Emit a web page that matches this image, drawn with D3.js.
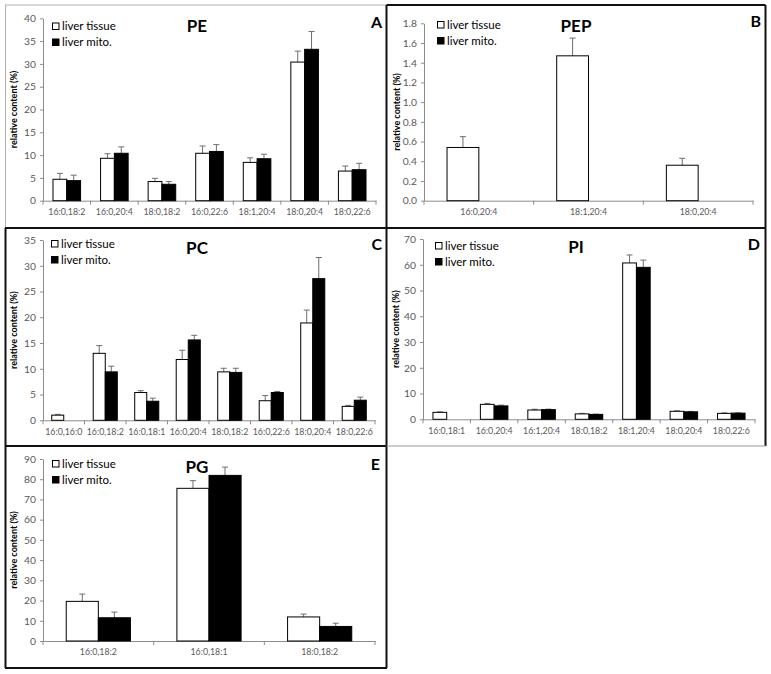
<!DOCTYPE html>
<html><head><meta charset="utf-8">
<script src="https://cdn.jsdelivr.net/npm/d3@7"></script>
<style>body{margin:0;background:#fff}</style>
</head><body><svg id="c" width="771" height="674"></svg>
<script>
const seriesNames = ["liver tissue", "liver mito."];

// Panel A – PE
const peCats = ["16:0,18:2","16:0,20:4","18:0,18:2","16:0,22:6","18:1,20:4","18:0,20:4","18:0,22:6"];
const peTissue = [4.7, 9.3, 4.2, 10.4, 8.4, 30.4, 6.5];
const peTissueErr = [1.3, 1.0, 0.7, 1.6, 1.0, 2.4, 1.1];
const peMito = [4.4, 10.4, 3.6, 10.8, 9.2, 33.2, 6.8];
const peMitoErr = [1.2, 1.4, 0.6, 1.5, 1.0, 3.9, 1.4];
const peTicks = [0,5,10,15,20,25,30,35,40];

// Panel B – PEP
const pepCats = ["16:0,20:4","18:1,20:4","18:0,20:4"];
const pepTissue = [0.54, 1.47, 0.36];
const pepTissueErr = [0.11, 0.18, 0.07];
const pepMito = [null, null, null];
const pepMitoErr = [0, 0, 0];
const pepTicks = [0,0.2,0.4,0.6,0.8,1.0,1.2,1.4,1.6,1.8];

// Panel C – PC
const pcCats = ["16:0,16:0","16:0,18:2","16:0,18:1","16:0,20:4","18:0,18:2","16:0,22:6","18:0,20:4","18:0,22:6"];
const pcTissue = [1.0, 13.0, 5.4, 11.8, 9.4, 3.8, 18.9, 2.7];
const pcTissueErr = [0.15, 1.5, 0.35, 1.8, 0.7, 1.0, 2.5, 0.2];
const pcMito = [null, 9.4, 3.7, 15.6, 9.3, 5.4, 27.5, 3.9];
const pcMitoErr = [0, 1.1, 0.6, 0.9, 0.8, 0.2, 4.1, 0.6];
const pcTicks = [0,5,10,15,20,25,30,35];

// Panel D – PI
const piCats = ["16:0,18:1","16:0,20:4","16:1,20:4","18:0,18:2","18:1,20:4","18:0,20:4","18:0,22:6"];
const piTissue = [2.7, 5.8, 3.6, 2.1, 60.7, 3.1, 2.3];
const piTissueErr = [0.2, 0.4, 0.3, 0.2, 3.1, 0.2, 0.2];
const piMito = [null, 5.2, 3.75, 1.9, 59.0, 2.9, 2.4];
const piMitoErr = [0, 0.3, 0.2, 0.1, 2.8, 0.15, 0.1];
const piTicks = [0,10,20,30,40,50,60,70];

// Panel E – PG
const pgCats = ["16:0,18:2","16:0,18:1","18:0,18:2"];
const pgTissue = [19.6, 75.5, 11.9];
const pgTissueErr = [3.6, 3.8, 1.4];
const pgMito = [11.5, 81.9, 7.2];
const pgMitoErr = [2.8, 4.1, 1.6];
const pgTicks = [0,10,20,30,40,50,60,70,80,90];

const panels = [
  {title:"PE", letter:"A", cats:peCats, t:peTissue, te:peTissueErr, m:peMito, me:peMitoErr, ticks:peTicks, fmt:d3.format("d"),
   x0:43, x1:376, y0:200.7, yTop:18.3, titleX:197, titleY:32, letterX:382, letterY:28, lx:52, ly:22.5, ytx:15},
  {title:"PEP", letter:"B", cats:pepCats, t:pepTissue, te:pepTissueErr, m:pepMito, me:pepMitoErr, ticks:pepTicks, fmt:d3.format(".1f"),
   x0:424, x1:753, y0:200.7, yTop:23.3, titleX:576, titleY:32, letterX:761, letterY:27, lx:437, ly:21, ytx:398},
  {title:"PC", letter:"C", cats:pcCats, t:pcTissue, te:pcTissueErr, m:pcMito, me:pcMitoErr, ticks:pcTicks, fmt:d3.format("d"),
   x0:43, x1:375, y0:420.3, yTop:240, titleX:197, titleY:254, letterX:382, letterY:250, lx:51, ly:240, ytx:15},
  {title:"PI", letter:"D", cats:piCats, t:piTissue, te:piTissueErr, m:piMito, me:piMitoErr, ticks:piTicks, fmt:d3.format("d"),
   x0:423, x1:755, y0:419.3, yTop:239, titleX:576, titleY:253, letterX:760, letterY:250, lx:435, ly:242, ytx:397},
  {title:"PG", letter:"E", cats:pgCats, t:pgTissue, te:pgTissueErr, m:pgMito, me:pgMitoErr, ticks:pgTicks, fmt:d3.format("d"),
   x0:43, x1:375, y0:641, yTop:459, titleX:197, titleY:473, letterX:380, letterY:470, lx:52, ly:460, ytx:15}
];

const svg = d3.select("#c");
const FONT = "Lato, 'Open Sans', sans-serif";
const AXIS = "#8c8c8c", TXT = "#595959";

// panel frames
const frame = [
  [5,5,386.5,5,"#b0b0b0",1],
  [386.5,5,765.5,5,"#111",2],
  [5.5,5,5.5,228,"#b0b0b0",1],
  [5.5,228,5.5,668,"#111",2],
  [386.5,5,386.5,668,"#111",2],
  [765.5,5,765.5,446,"#111",2],
  [5,228,766,228,"#111",2],
  [5,446,386.5,446,"#111",2],
  [386.5,446,766,446,"#9a9a9a",1],
  [5,668,387,668,"#111",2]
];
svg.selectAll("line.frame").data(frame).join("line").attr("class","frame")
  .attr("x1",d=>d[0]).attr("y1",d=>d[1]).attr("x2",d=>d[2]).attr("y2",d=>d[3])
  .attr("stroke",d=>d[4]).attr("stroke-width",d=>d[5]);

panels.forEach(p => {
  const g = svg.append("g");
  const x = d3.scaleBand().domain(p.cats).range([p.x0, p.x1]).padding(0);
  const bw = x.bandwidth();
  const sub = d3.scaleBand().domain(seriesNames).range([bw*0.21, bw*0.79]).padding(0);
  const yMax = p.ticks[p.ticks.length-1];
  const y = d3.scaleLinear().domain([0, yMax]).range([p.y0, p.yTop]);

  // y axis
  const ya = g.append("g").attr("transform",`translate(${p.x0},0)`)
    .call(d3.axisLeft(y).tickValues(p.ticks).tickFormat(p.fmt).tickSize(3).tickSizeOuter(0).tickPadding(4));
  ya.select(".domain").attr("stroke",AXIS);
  ya.selectAll(".tick line").attr("stroke",AXIS);
  ya.selectAll(".tick text").attr("fill",TXT).style("font-family",FONT).style("font-size","10.3px");

  // x axis
  const xa = g.append("g").attr("transform",`translate(0,${p.y0})`)
    .call(d3.axisBottom(x).tickSize(0).tickPadding(8).tickSizeOuter(0));
  xa.select(".domain").attr("stroke",AXIS);
  xa.selectAll(".tick text").attr("fill",TXT).style("font-family",FONT).style("font-size","8.8px");
  const bounds = p.cats.map(c => x(c)).concat([p.x1]);
  g.selectAll("line.xt").data(bounds).join("line").attr("class","xt")
    .attr("x1",d=>d).attr("x2",d=>d).attr("y1",p.y0).attr("y2",p.y0+4).attr("stroke",AXIS);

  // bars
  const rows = [];
  p.cats.forEach((c,i) => {
    rows.push({c, s:seriesNames[0], v:p.t[i], e:p.te[i]});
    rows.push({c, s:seriesNames[1], v:p.m[i], e:p.me[i]});
  });
  const valid = rows.filter(r => r.v != null);
  // error bars
  const eb = g.selectAll("g.eb").data(valid.filter(r=>r.e>0)).join("g").attr("class","eb");
  eb.append("line")
    .attr("x1",r=>x(r.c)+sub(r.s)+sub.bandwidth()/2).attr("x2",r=>x(r.c)+sub(r.s)+sub.bandwidth()/2)
    .attr("y1",r=>y(r.v)).attr("y2",r=>y(r.v+r.e)).attr("stroke","#6e6e6e").attr("stroke-width",1);
  eb.append("line")
    .attr("x1",r=>x(r.c)+sub(r.s)+sub.bandwidth()/2-3).attr("x2",r=>x(r.c)+sub(r.s)+sub.bandwidth()/2+3)
    .attr("y1",r=>y(r.v+r.e)).attr("y2",r=>y(r.v+r.e)).attr("stroke","#6e6e6e").attr("stroke-width",1);
  g.selectAll("rect.bar").data(valid).join("rect").attr("class","bar")
    .attr("x",r=>x(r.c)+sub(r.s)).attr("y",r=>y(r.v))
    .attr("width",sub.bandwidth()).attr("height",r=>p.y0-y(r.v))
    .attr("fill",r=>r.s===seriesNames[0]?"#fff":"#000")
    .attr("stroke","#000").attr("stroke-width",1);

  // y title
  g.append("text").attr("transform",`translate(${p.ytx},${(p.y0+p.yTop)/2}) rotate(-90)`)
    .attr("text-anchor","middle").attr("dominant-baseline","middle")
    .style("font-family",FONT).style("font-weight","bold").style("font-size","9px").attr("fill","#000")
    .text("relative content (%)");

  // title & letter
  g.append("text").attr("x",p.titleX).attr("y",p.titleY).attr("text-anchor","middle")
    .style("font-family",FONT).style("font-weight","bold").style("font-size","17px").text(p.title);
  g.append("text").attr("x",p.letterX).attr("y",p.letterY).attr("text-anchor","end")
    .style("font-family",FONT).style("font-weight","bold").style("font-size","16px").text(p.letter);

  // legend
  const lg = g.selectAll("g.lg").data(seriesNames).join("g").attr("class","lg")
    .attr("transform",(d,i)=>`translate(${p.lx},${p.ly+i*16})`);
  lg.append("rect").attr("x",0.5).attr("y",0.5).attr("width",6.5).attr("height",6.5)
    .attr("fill",(d,i)=>i?"#000":"#fff").attr("stroke","#000").attr("stroke-width",1);
  lg.append("text").attr("x",10).attr("y",7.5)
    .style("font-family",FONT).style("font-size","11.5px").attr("fill","#000").text(d=>d);
});
</script>
</body></html>
